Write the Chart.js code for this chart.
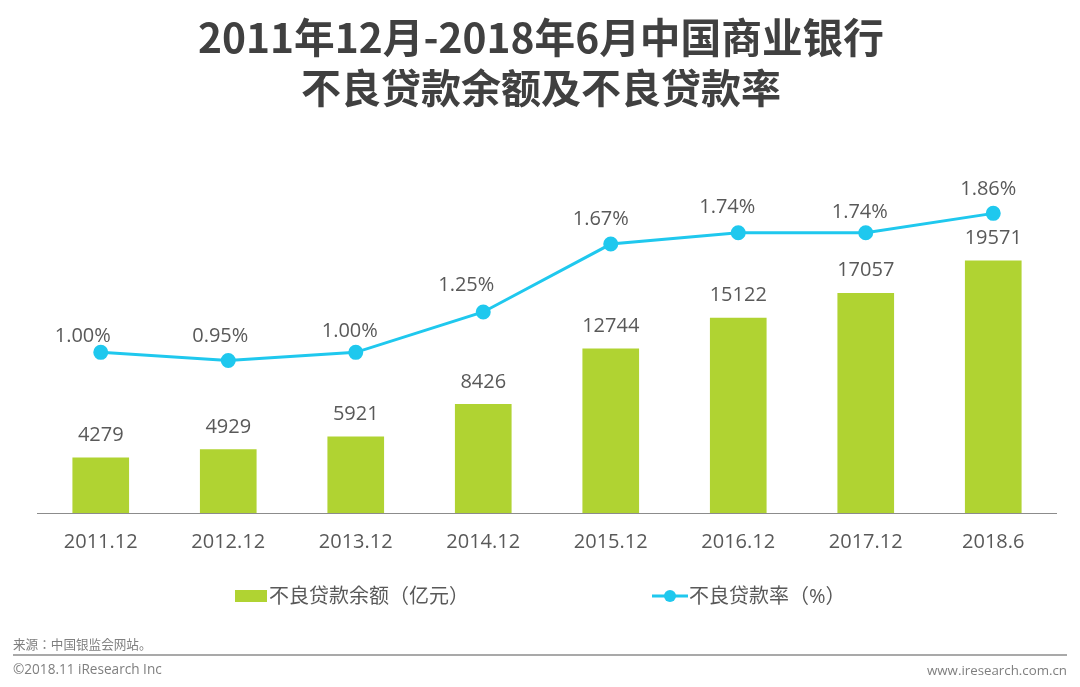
<!DOCTYPE html>
<html><head><meta charset="utf-8">
<style>html,body{margin:0;padding:0;background:#fff;width:1080px;height:687px;overflow:hidden}
#w{position:absolute;left:0;top:0;width:1080px;height:687px}</style>
<script src="https://cdn.jsdelivr.net/npm/chart.js@4"></script></head><body><div id="w"><canvas id="c" width="1080" height="687"></canvas></div>
<script>
const categories=['2011.12','2012.12','2013.12','2014.12','2015.12','2016.12','2017.12','2018.6'];
const balance=[4279,4929,5921,8426,12744,15122,17057,19571];
const rate=[1.00,0.95,1.00,1.25,1.67,1.74,1.74,1.86];
const rateLabels=['1.00%','0.95%','1.00%','1.25%','1.67%','1.74%','1.74%','1.86%'];
const titleLines=['2011年12月-2018年6月中国商业银行','不良贷款余额及不良贷款率'];
const barName='不良贷款余额（亿元）';
const lineName='不良贷款率（%）';
const sourceText='来源：中国银监会网站。';
const copyText='©2018.11 iResearch Inc';
const siteText='www.iresearch.com.cn';
const rateDx=[-18,-8,-6,-17,-10,-11,-6,-5];
const rateDy=[-16,-24,-21,-27,-25,-25,-20,-24];
const F='"Open Sans","Noto Sans CJK KR"';
const T='"Noto Sans CJK SC"';
const grey='#404040',txt='#595959',green='#b0d332',blue='#1fc8ee';
const deco={id:'deco',afterDraw(ch){
 const x=ch.ctx;x.save();
 x.fillStyle=grey;x.textAlign='center';x.textBaseline='middle';
 x.font='700 40.7px '+T;x.fillText(titleLines[0],541,38);
 x.font='700 40px '+T;x.fillText(titleLines[1],541,88);
 x.font='400 20px '+F;x.fillStyle=txt;
 balance.forEach((v,i)=>{
  const m=ch.getDatasetMeta(0).data[i];x.fillText(String(v),m.x,m.y-22.5);
  const p=ch.getDatasetMeta(1).data[i];x.fillText(rateLabels[i],p.x+rateDx[i],p.y+rateDy[i]);
 });
 x.strokeStyle='#8c8c8c';x.lineWidth=1;x.beginPath();x.moveTo(37,513.5);x.lineTo(1057,513.5);x.stroke();
 x.textAlign='left';
 x.fillStyle=green;x.fillRect(235,590,32,12);
 x.fillStyle=txt;x.fillText(barName,269,597);
 x.strokeStyle=blue;x.lineWidth=3;x.beginPath();x.moveTo(652,596);x.lineTo(688,596);x.stroke();
 x.fillStyle=blue;x.beginPath();x.arc(670,596,6,0,7);x.fill();
 x.fillStyle=txt;x.fillText(lineName,689,597);
 x.strokeStyle='#8c8c8c';x.lineWidth=1.5;x.beginPath();x.moveTo(13,655);x.lineTo(1067,655);x.stroke();
 x.fillStyle='#7f7f7f';
 x.font='400 12.6px '+F;x.fillText(sourceText,13,645);
 x.font='400 13.6px '+F;x.fillText(copyText,13,670);
 x.font='400 13.3px '+F;x.textAlign='right';x.fillText(siteText,1067,671);
 x.restore();
}};
new Chart(document.getElementById('c'),{
 data:{labels:categories,datasets:[
  {type:'bar',label:barName,data:balance,backgroundColor:green,yAxisID:'y',barThickness:56,order:2},
  {type:'line',label:lineName,data:rate,borderColor:blue,backgroundColor:blue,borderWidth:3,pointRadius:6,pointHoverRadius:6,tension:0,yAxisID:'y2',order:1}
 ]},
 options:{responsive:false,animation:false,devicePixelRatio:1,
  layout:{padding:{left:37,right:23,top:113,bottom:124}},
  plugins:{legend:{display:false},title:{display:false},tooltip:{enabled:false}},
  scales:{
   x:{position:'bottom',afterFit(s){s.height=50},grid:{display:false},border:{display:false},ticks:{color:txt,font:{size:20,family:F},padding:9,maxRotation:0,autoSkip:false}},
   y:{display:false,min:0,max:31050},
   y2:{display:false,min:0.006,max:2.481}
  }},
 plugins:[deco]
});
</script></body></html>
